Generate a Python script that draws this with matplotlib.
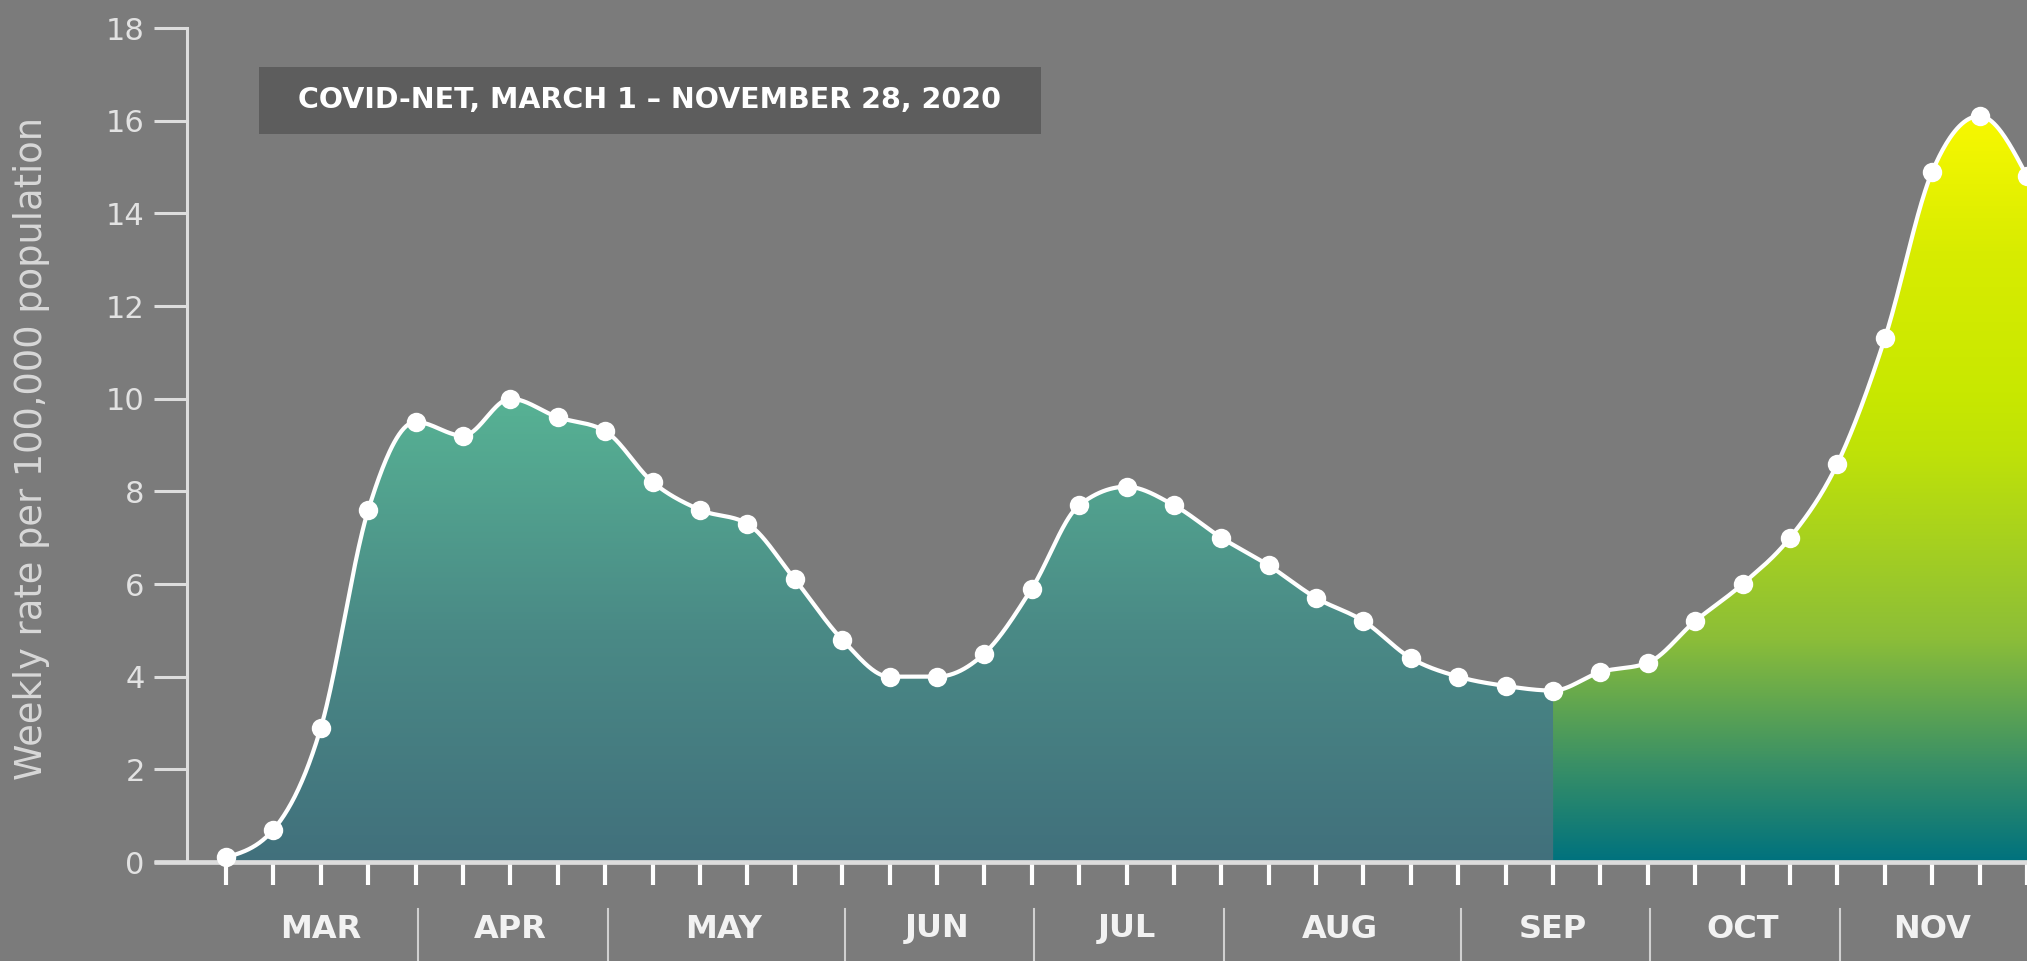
import numpy as np
import matplotlib
matplotlib.use("Agg")
import matplotlib.pyplot as plt
from matplotlib.colors import LinearSegmentedColormap
from matplotlib.patches import Polygon, Rectangle
import matplotlib.transforms as mtransforms

# ---------------- data ----------------
weekly_rate = [0.1, 0.7, 2.9, 7.6, 9.5, 9.2, 10.0, 9.6, 9.3, 8.2,
               7.6, 7.3, 6.1, 4.8, 4.0, 4.0, 4.5, 5.9, 7.7, 8.1,
               7.7, 7.0, 6.4, 5.7, 5.2, 4.4, 4.0, 3.8, 3.7, 4.1,
               4.3, 5.2, 6.0, 7.0, 8.6, 11.3, 14.9, 16.1, 14.8]
month_labels = ["MAR", "APR", "MAY", "JUN", "JUL", "AUG", "SEP", "OCT", "NOV"]
month_starts = [0, 4, 8, 13, 17, 21, 26, 30, 34, 38]   # week index of month boundaries
split_week = 28                                       # start of highlighted period
y_ticks = [0, 2, 4, 6, 8, 10, 12, 14, 16, 18]
box_text = "COVID-NET, MARCH 1 \u2013 NOVEMBER 28, 2020"
y_label = "Weekly rate per 100,000 population"

# ---------------- helpers ----------------
def monotone_curve(x, y, n=40):
    x = np.asarray(x, float); y = np.asarray(y, float)
    h = np.diff(x); s = np.diff(y) / h
    m = np.zeros_like(y)
    for i in range(1, len(y) - 1):
        s0, s1 = s[i - 1], s[i]
        p = (s0 * h[i] + s1 * h[i - 1]) / (h[i - 1] + h[i])
        m[i] = (np.sign(s0) + np.sign(s1)) * min(abs(s0), abs(s1), 0.5 * abs(p))
    m[0] = (3 * s[0] - m[1]) / 2
    m[-1] = (3 * s[-1] - m[-2]) / 2
    xs, ys = [], []
    for i in range(len(h)):
        t = np.linspace(0, 1, n, endpoint=(i == len(h) - 1))
        h00 = 2 * t**3 - 3 * t**2 + 1
        h10 = t**3 - 2 * t**2 + t
        h01 = -2 * t**3 + 3 * t**2
        h11 = t**3 - t**2
        xs.append(x[i] + t * h[i])
        ys.append(h00 * y[i] + h10 * h[i] * m[i] + h01 * y[i + 1] + h11 * h[i] * m[i + 1])
    return np.concatenate(xs), np.concatenate(ys)

# ---------------- figure ----------------
W, H = 2027, 961
BG = "#7b7b7b"
fig = plt.figure(figsize=(W / 100, H / 100), dpi=100, facecolor=BG)

ax_left, ax_right = 187, 2027
ax_top, ax_bot = 28, 862
ax = fig.add_axes([ax_left / W, 1 - ax_bot / H, (ax_right - ax_left) / W, (ax_bot - ax_top) / H])
ax.set_facecolor(BG)

x0_px, dx_px = 226.2, 47.55
xlim = ((ax_left - x0_px) / dx_px, (ax_right - x0_px) / dx_px)

weeks = np.arange(len(weekly_rate))
cx, cy = monotone_curve(weeks, weekly_rate)

# gradient fills
cmap_left = LinearSegmentedColormap.from_list("l", ["#41707c", "#4a8a86", "#57b294"])
cmap_right = LinearSegmentedColormap.from_list(
    "r", [(0.0, "#00727e"), (0.13, "#3a9066"), (0.3, "#8cbe38"),
          (0.55, "#bfe208"), (0.63, "#c8e800"), (0.82, "#d8ec00"), (1.0, "#f8f800")])
grad = np.linspace(0, 1, 512).reshape(-1, 1)

for lo, hi, cm in [(0, split_week, cmap_left), (split_week, len(weekly_rate) - 1, cmap_right)]:
    mask = (cx >= lo - 1e-9) & (cx <= hi + 1e-9)
    px, py = cx[mask], cy[mask]
    verts = np.column_stack([np.r_[px, hi, lo], np.r_[py, 0, 0]])
    poly = Polygon(verts, closed=True, facecolor="none", edgecolor="none")
    ax.add_patch(poly)
    top = max(weekly_rate[lo:hi + 1])
    im = ax.imshow(grad, extent=[lo, hi, 0, top], origin="lower", aspect="auto",
                   cmap=cm, zorder=1, interpolation="bilinear")
    im.set_clip_path(poly)

ax.set_xlim(*xlim)
ax.set_ylim(0, 18)

# line + markers
ax.plot(cx, cy, color="white", lw=3, zorder=4, clip_on=False, solid_capstyle="round")
ax.plot(weeks, weekly_rate, "o", color="white", ms=14, mew=0, zorder=5, clip_on=False)

# spines
for s in ["top", "right", "bottom"]:
    ax.spines[s].set_visible(False)
ax.spines["left"].set_color("#dddddd")
ax.spines["left"].set_linewidth(2.2)
ax.spines["left"].set_bounds(0, 18)

# x axis line (extends left under y axis)
xa_left = (154 - x0_px) / dx_px
ax.plot([xa_left, xlim[1] + 2], [0, 0], color="#dcdcdc", lw=3.4, zorder=3,
        clip_on=False, solid_capstyle="butt")

# y ticks
ax.set_yticks(y_ticks)
ax.tick_params(axis="y", direction="out", length=23.5, width=2.2, color="#dddddd",
               pad=7, labelsize=22, labelcolor="#e2e2e2")
for lab in ax.get_yticklabels():
    lab.set_fontfamily("DejaVu Sans")

# x weekly ticks
ax.set_xticks(weeks)
ax.set_xticklabels([])
ax.tick_params(axis="x", direction="out", length=16.5, width=3, color="white", pad=0)
ax.xaxis.set_ticks_position("bottom")

# month separators and labels
trans = mtransforms.blended_transform_factory(ax.transData, ax.transAxes)
sep_top = -(909 - ax_bot) / (ax_bot - ax_top)
lab_y = -(929 - ax_bot) / (ax_bot - ax_top)
for b in month_starts[1:-1]:
    ax.plot([b + 0.05, b + 0.05], [sep_top, -0.2], transform=trans, color="#d0d0d0",
            lw=1.5, clip_on=False, zorder=2)
for i, lab in enumerate(month_labels):
    mid = (month_starts[i] + month_starts[i + 1]) / 2
    ax.text(mid, lab_y, lab, transform=trans, ha="center", va="center",
            fontsize=23, fontweight="bold", color="#f2f2f2", family="DejaVu Sans")

# y label
fig.text(32 / W, 1 - 449 / H, y_label, rotation=90, ha="center", va="center",
         fontsize=26.5, color="#d8d8d8", family="DejaVu Sans")

# source box
bx0, by0, bx1, by1 = 258.5, 67, 1040.6, 134.4
fig.add_artist(Rectangle((bx0 / W, 1 - by1 / H), (bx1 - bx0) / W, (by1 - by0) / H,
                         transform=fig.transFigure, facecolor="#5d5d5d", edgecolor="none"))
fig.text((bx0 + bx1) / 2 / W, 1 - 100 / H, box_text, ha="center", va="center",
         fontsize=20.5, fontweight="bold", color="white", family="DejaVu Sans")

fig.savefig("out.png", dpi=100, facecolor=BG)
